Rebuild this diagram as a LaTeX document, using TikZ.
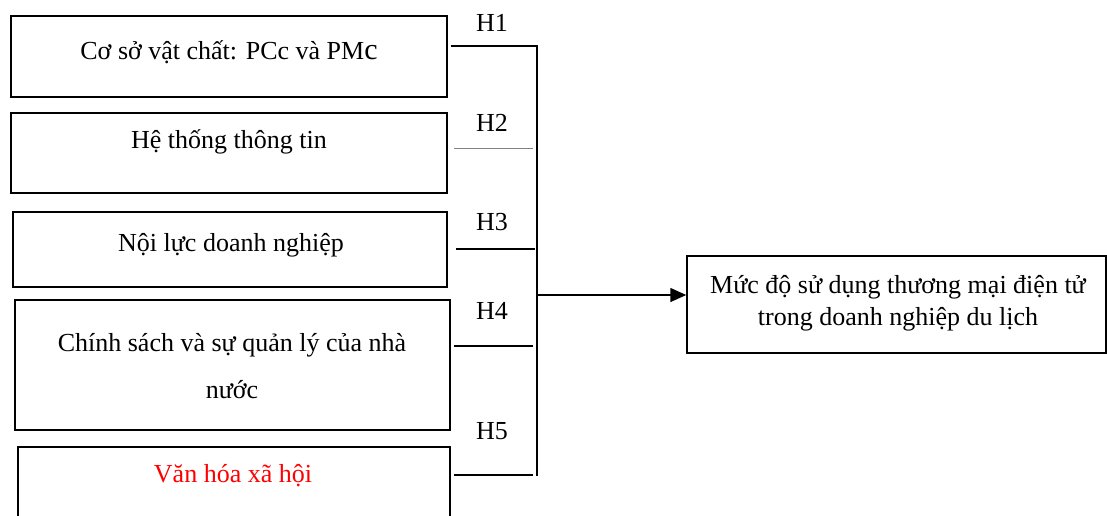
\documentclass[tikz,border=0pt]{standalone}
\usepackage{fontspec}
\setmainfont{Liberation Serif}
\usetikzlibrary{arrows.meta,calc}
\begin{document}
\begin{tikzpicture}[x=1pt,y=-1pt,
  box/.style={draw=black,line width=1.5pt,rectangle,inner sep=0pt},
  txt/.style={inner sep=0pt,font=\fontsize{26}{26}\selectfont},
  hlab/.style={inner sep=0pt,font=\fontsize{26}{26}\selectfont},
  conn/.style={line width=1.5pt},
  thinconn/.style={line width=1pt,draw=gray}]
\useasboundingbox (0,0) rectangle (1107,515);
% boxes
\node[box,minimum width=436pt,minimum height=81pt] (b1) at (229,56.5) {};
\node[box,minimum width=436pt,minimum height=80pt] (b2) at (229,153) {};
\node[box,minimum width=434pt,minimum height=75pt] (b3) at (230,249.5) {};
\node[box,minimum width=435pt,minimum height=130pt] (b4) at (232.5,365) {};
\node[box,minimum width=432pt,minimum height=78pt] (b5) at (234,486) {};
\node[box,minimum width=419pt,minimum height=97pt] (out) at (896.5,304.5) {};
% texts
\node[txt] (t1) at (229,52) {Cơ sở vật chất: PCc và PM{\fontsize{30}{30}\selectfont c}};
\node[txt] (t2) at (229,142) {Hệ thống thông tin};
\node[txt] (t3) at (231,245) {Nội lực doanh nghiệp};
\node[txt] (t4a) at (232,345) {Chính sách và sự quản lý của nhà};
\node[txt] (t4b) at (232,390) {nước};
\node[txt,text=red] (t5) at (233,476) {Văn hóa xã hội};
\node[txt] (o1) at (898,287) {Mức độ sử dụng thương mại điện tử};
\node[txt] (o2) at (898,319) {trong doanh nghiệp du lịch};
% labels
\node[hlab] (l1) at (492,23) {H1};
\node[hlab] (l2) at (492,123) {H2};
\node[hlab] (l3) at (492,222) {H3};
\node[hlab] (l4) at (492,311) {H4};
\node[hlab] (l5) at (492,431) {H5};
% junction coordinates
\coordinate (j1) at (537,46);
\coordinate (j5) at (537,476);
\coordinate (ja) at (537,295);
\coordinate (e2) at (533,148);
\coordinate (e3) at (535,249);
\coordinate (e4) at (533,346);
\coordinate (e5) at (533,475);
% connectors
\draw[conn] ($(b1.east |- j1)+(3,0)$) -- (j1) -- (j5);
\draw[thinconn] ($(b2.east |- e2)+(6,0)$) -- (e2);
\draw[conn] ($(b3.east |- e3)+(8,0)$) -- (e3);
\draw[conn] ($(b4.east |- e4)+(3,0)$) -- (e4);
\draw[conn] ($(b5.east |- e5)+(3,0)$) -- (e5);
\draw[conn,-{Triangle[length=16pt,width=14pt]}] (ja) -- (out.west |- ja);
\end{tikzpicture}
\end{document}
